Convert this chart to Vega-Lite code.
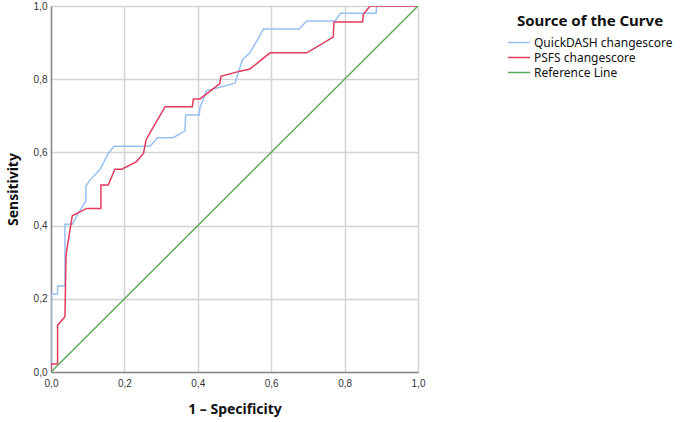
{
  "$schema": "https://vega.github.io/schema/vega-lite/v6.json",
  "autosize": "none",
  "width": 367,
  "height": 366,
  "padding": {"left": 51, "top": 6, "right": 267, "bottom": 50},
  "config": {
    "view": {"stroke": null},
    "font": "Noto Sans",
    "axis": {
      "labelFont": "Liberation Sans",
      "labelFontSize": 10,
      "labelColor": "#333333",
      "titleFont": "Noto Sans",
      "titleFontSize": 14,
      "titleFontWeight": "bold",
      "titleColor": "#111111",
      "gridColor": "#d4d4d4",
      "gridWidth": 1.5,
      "domainColor": "#8a8a8a",
      "domainWidth": 1.5,
      "ticks": false
    }
  },
  "data": {
    "values": [
      {"curve": "QuickDASH changescore", "i": 0, "fpr": 0, "tpr": 0},
      {"curve": "QuickDASH changescore", "i": 1, "fpr": 0, "tpr": 0.213},
      {"curve": "QuickDASH changescore", "i": 2, "fpr": 0.018, "tpr": 0.213},
      {"curve": "QuickDASH changescore", "i": 3, "fpr": 0.018, "tpr": 0.235},
      {"curve": "QuickDASH changescore", "i": 4, "fpr": 0.038, "tpr": 0.235},
      {"curve": "QuickDASH changescore", "i": 5, "fpr": 0.038, "tpr": 0.404},
      {"curve": "QuickDASH changescore", "i": 6, "fpr": 0.058, "tpr": 0.404},
      {"curve": "QuickDASH changescore", "i": 7, "fpr": 0.077, "tpr": 0.438},
      {"curve": "QuickDASH changescore", "i": 8, "fpr": 0.095, "tpr": 0.468},
      {"curve": "QuickDASH changescore", "i": 9, "fpr": 0.095, "tpr": 0.508},
      {"curve": "QuickDASH changescore", "i": 10, "fpr": 0.107, "tpr": 0.525},
      {"curve": "QuickDASH changescore", "i": 11, "fpr": 0.134, "tpr": 0.554},
      {"curve": "QuickDASH changescore", "i": 12, "fpr": 0.156, "tpr": 0.597},
      {"curve": "QuickDASH changescore", "i": 13, "fpr": 0.172, "tpr": 0.617},
      {"curve": "QuickDASH changescore", "i": 14, "fpr": 0.27, "tpr": 0.617},
      {"curve": "QuickDASH changescore", "i": 15, "fpr": 0.29, "tpr": 0.64},
      {"curve": "QuickDASH changescore", "i": 16, "fpr": 0.333, "tpr": 0.64},
      {"curve": "QuickDASH changescore", "i": 17, "fpr": 0.365, "tpr": 0.659},
      {"curve": "QuickDASH changescore", "i": 18, "fpr": 0.367, "tpr": 0.702},
      {"curve": "QuickDASH changescore", "i": 19, "fpr": 0.404, "tpr": 0.702},
      {"curve": "QuickDASH changescore", "i": 20, "fpr": 0.406, "tpr": 0.723},
      {"curve": "QuickDASH changescore", "i": 21, "fpr": 0.424, "tpr": 0.769},
      {"curve": "QuickDASH changescore", "i": 22, "fpr": 0.46, "tpr": 0.778},
      {"curve": "QuickDASH changescore", "i": 23, "fpr": 0.501, "tpr": 0.789},
      {"curve": "QuickDASH changescore", "i": 24, "fpr": 0.522, "tpr": 0.854},
      {"curve": "QuickDASH changescore", "i": 25, "fpr": 0.542, "tpr": 0.872},
      {"curve": "QuickDASH changescore", "i": 26, "fpr": 0.579, "tpr": 0.937},
      {"curve": "QuickDASH changescore", "i": 27, "fpr": 0.676, "tpr": 0.937},
      {"curve": "QuickDASH changescore", "i": 28, "fpr": 0.697, "tpr": 0.959},
      {"curve": "QuickDASH changescore", "i": 29, "fpr": 0.774, "tpr": 0.959},
      {"curve": "QuickDASH changescore", "i": 30, "fpr": 0.789, "tpr": 0.98},
      {"curve": "QuickDASH changescore", "i": 31, "fpr": 0.886, "tpr": 0.98},
      {"curve": "QuickDASH changescore", "i": 32, "fpr": 0.887, "tpr": 1},
      {"curve": "QuickDASH changescore", "i": 33, "fpr": 1, "tpr": 1},
      {"curve": "PSFS changescore", "i": 0, "fpr": 0, "tpr": 0},
      {"curve": "PSFS changescore", "i": 1, "fpr": 0, "tpr": 0.022},
      {"curve": "PSFS changescore", "i": 2, "fpr": 0.018, "tpr": 0.022},
      {"curve": "PSFS changescore", "i": 3, "fpr": 0.018, "tpr": 0.128},
      {"curve": "PSFS changescore", "i": 4, "fpr": 0.038, "tpr": 0.151},
      {"curve": "PSFS changescore", "i": 5, "fpr": 0.041, "tpr": 0.32},
      {"curve": "PSFS changescore", "i": 6, "fpr": 0.058, "tpr": 0.427},
      {"curve": "PSFS changescore", "i": 7, "fpr": 0.097, "tpr": 0.447},
      {"curve": "PSFS changescore", "i": 8, "fpr": 0.136, "tpr": 0.447},
      {"curve": "PSFS changescore", "i": 9, "fpr": 0.136, "tpr": 0.511},
      {"curve": "PSFS changescore", "i": 10, "fpr": 0.156, "tpr": 0.511},
      {"curve": "PSFS changescore", "i": 11, "fpr": 0.174, "tpr": 0.554},
      {"curve": "PSFS changescore", "i": 12, "fpr": 0.193, "tpr": 0.554},
      {"curve": "PSFS changescore", "i": 13, "fpr": 0.233, "tpr": 0.575},
      {"curve": "PSFS changescore", "i": 14, "fpr": 0.252, "tpr": 0.597},
      {"curve": "PSFS changescore", "i": 15, "fpr": 0.259, "tpr": 0.634},
      {"curve": "PSFS changescore", "i": 16, "fpr": 0.279, "tpr": 0.67},
      {"curve": "PSFS changescore", "i": 17, "fpr": 0.311, "tpr": 0.725},
      {"curve": "PSFS changescore", "i": 18, "fpr": 0.385, "tpr": 0.725},
      {"curve": "PSFS changescore", "i": 19, "fpr": 0.388, "tpr": 0.746},
      {"curve": "PSFS changescore", "i": 20, "fpr": 0.406, "tpr": 0.746},
      {"curve": "PSFS changescore", "i": 21, "fpr": 0.424, "tpr": 0.76},
      {"curve": "PSFS changescore", "i": 22, "fpr": 0.46, "tpr": 0.788},
      {"curve": "PSFS changescore", "i": 23, "fpr": 0.463, "tpr": 0.808},
      {"curve": "PSFS changescore", "i": 24, "fpr": 0.515, "tpr": 0.822},
      {"curve": "PSFS changescore", "i": 25, "fpr": 0.542, "tpr": 0.828},
      {"curve": "PSFS changescore", "i": 26, "fpr": 0.597, "tpr": 0.872},
      {"curve": "PSFS changescore", "i": 27, "fpr": 0.697, "tpr": 0.872},
      {"curve": "PSFS changescore", "i": 28, "fpr": 0.769, "tpr": 0.915},
      {"curve": "PSFS changescore", "i": 29, "fpr": 0.771, "tpr": 0.956},
      {"curve": "PSFS changescore", "i": 30, "fpr": 0.849, "tpr": 0.956},
      {"curve": "PSFS changescore", "i": 31, "fpr": 0.851, "tpr": 0.977},
      {"curve": "PSFS changescore", "i": 32, "fpr": 0.869, "tpr": 1},
      {"curve": "PSFS changescore", "i": 33, "fpr": 1, "tpr": 1},
      {"curve": "Reference Line", "i": 0, "fpr": 0, "tpr": 0},
      {"curve": "Reference Line", "i": 1, "fpr": 1, "tpr": 1}
    ]
  },
  "mark": {"type": "line", "strokeWidth": 1.5, "clip": true},
  "encoding": {
    "x": {
      "field": "fpr", "type": "quantitative",
      "scale": {"domain": [0, 1], "nice": false, "zero": false},
      "axis": {
        "title": "1 – Specificity",
        "values": [0, 0.2, 0.4, 0.6, 0.8, 1],
        "labelExpr": "replace(format(datum.value, '.1f'), '.', ',')",
        "labelPadding": 6,
        "titlePadding": 14,
        "labelFlush": false
      }
    },
    "y": {
      "field": "tpr", "type": "quantitative",
      "scale": {"domain": [0, 1], "nice": false, "zero": false},
      "axis": {
        "title": "Sensitivity",
        "values": [0, 0.2, 0.4, 0.6, 0.8, 1],
        "labelExpr": "replace(format(datum.value, '.1f'), '.', ',')",
        "labelPadding": 4,
        "titlePadding": 13,
        "labelFlush": false
      }
    },
    "color": {
      "field": "curve", "type": "nominal",
      "scale": {
        "domain": ["QuickDASH changescore", "PSFS changescore", "Reference Line"],
        "range": ["#97c1f3", "#e23b5e", "#5fa95b"]
      },
      "legend": {
        "title": "Source of the Curve",
        "orient": "none",
        "legendX": 456,
        "legendY": 8,
        "titleFont": "Noto Sans",
        "titleFontSize": 15,
        "titleFontWeight": "bold",
        "titleColor": "#111111",
        "titleAnchor": "middle",
        "titlePadding": 6,
        "labelFont": "Noto Sans",
        "labelFontSize": 12,
        "labelColor": "#111111",
        "labelLimit": 300,
        "symbolType": "stroke",
        "symbolSize": 500,
        "symbolStrokeWidth": 1.5,
        "labelOffset": 3,
        "clipHeight": 15,
        "rowPadding": 0
      }
    },
    "order": {"field": "i", "type": "quantitative"}
  }
}
